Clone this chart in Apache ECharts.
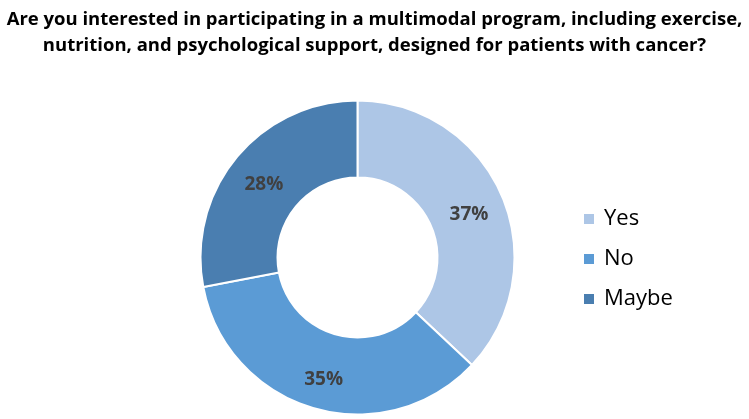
<!DOCTYPE html>
<html>
<head>
<meta charset="utf-8">
<script src="https://cdn.jsdelivr.net/npm/echarts@6/dist/echarts.min.js"></script>
<style>
html, body { margin: 0; padding: 0; background: #fff; }
#main { width: 749px; height: 419px; }
</style>
</head>
<body>
<div id="main"></div>
<script>
const answers = ['Yes', 'No', 'Maybe'];
const shares = [37, 35, 28];
const sliceColors = ['#adc6e6', '#5b9bd5', '#4a7eb0'];

const chart = echarts.init(document.getElementById('main'));
chart.setOption({
	animation: false,
	color: sliceColors,
	title: {
		text: 'Are you interested in participating in a multimodal program, including exercise,\nnutrition, and psychological support, designed for patients with cancer?',
		left: 'center',
		top: 2,
		textStyle: {
			fontFamily: 'Open Sans',
			fontWeight: 'bold',
			fontSize: 18.5,
			lineHeight: 26,
			color: '#000'
		}
	},
	legend: {
		orient: 'vertical',
		left: 577,
		top: 203,
		itemWidth: 12,
		itemHeight: 12,
		itemGap: 18,
		icon: 'rect',
		selectedMode: false,
		textStyle: {
			fontFamily: 'Open Sans',
			fontSize: 22,
			color: '#000',
			padding: [0, 0, 0, 4]
		},
		data: answers
	},
	series: [{
		type: 'pie',
		center: [357.5, 257.5],
		radius: [80, 157],
		startAngle: 90,
		clockwise: true,
		itemStyle: {
			borderColor: '#fff',
			borderWidth: 2
		},
		label: {
			position: 'inside',
			formatter: '{c}%',
			fontFamily: 'Open Sans',
			fontWeight: 'bold',
			fontSize: 19,
			color: '#404040',
			offset: [0, 5]
		},
		labelLine: { show: false },
		emphasis: { disabled: true },
		data: answers.map((a, i) => ({ name: a, value: shares[i] }))
	}]
});
</script>
</body>
</html>
